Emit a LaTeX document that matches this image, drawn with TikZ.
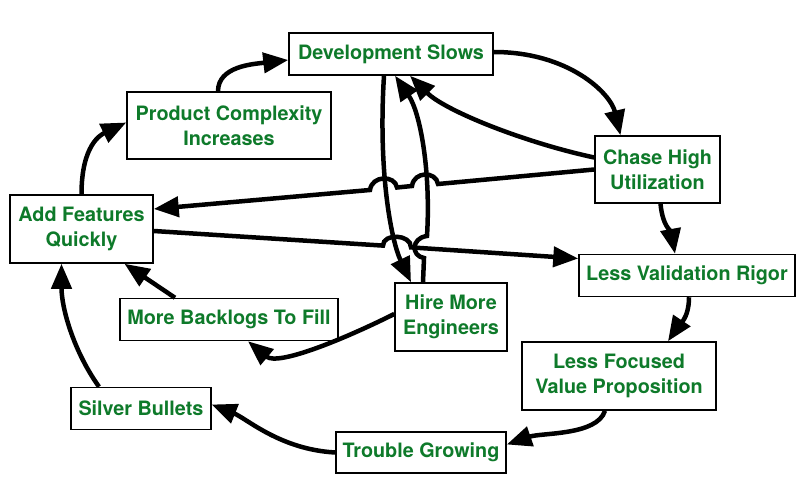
\documentclass[tikz,border=0pt]{standalone}
\usepackage{fontspec}
\setmainfont{TeX Gyre Heros}
\usepackage{tikz}
\usetikzlibrary{arrows.meta}
\definecolor{loopgreen}{RGB}{14,122,42}

\begin{document}
\begin{tikzpicture}[x=1pt,y=-1pt,
	box/.style={draw,line width=1.5pt,fill=white,align=center,text=loopgreen,
		font=\fontsize{19.8}{24.5}\selectfont\bfseries,inner sep=0pt,minimum height=42pt},
	link/.style={line width=4.5pt,-{Triangle[length=25pt,width=20pt]}}]
		\useasboundingbox (0,0) rectangle (800,478);
		\node[box,minimum width=204pt] (dev) at (391,54) {Development Slows};
		\node[box,minimum width=204pt,minimum height=67pt] (cmplx) at (229,125.5) {Product Complexity\\Increases};
		\node[box,minimum width=125pt,minimum height=67pt] (chase) at (657.5,169.5) {Chase High\\Utilization};
		\node[box,minimum width=143pt,minimum height=68pt] (feat) at (81.5,229) {Add Features\\Quickly};
		\node[box,minimum width=216pt] (valid) at (687,275.5) {Less Validation Rigor};
		\node[box,minimum width=112pt,minimum height=68pt] (hire) at (451,317) {Hire More\\Engineers};
		\node[box,minimum width=218pt] (backlog) at (229,319.5) {More Backlogs To Fill};
		\node[box,minimum width=194pt,minimum height=68pt] (focus) at (619,376) {Less Focused\\Value Proposition};
		\node[box,minimum width=140pt] (silver) at (141,408.5) {Silver Bullets};
		\node[box,minimum width=170pt,minimum height=41pt] (trouble) at (421,452.5) {Trouble Growing};
		
		\draw[link] (feat.north) .. controls +(0,-50) and +(-25,12) .. ([yshift=3pt]cmplx.west);
		\draw[link] ([xshift=-11pt]cmplx.north) .. controls +(0,-25) and +(-35,4) .. ([yshift=-6pt]dev.west);
		\draw[link] ([yshift=2pt]dev.east) .. controls +(75,0) and +(-10,-42) .. ([xshift=-37pt]chase.north);
		\draw[link] ([yshift=12pt]chase.west) .. controls +(-70,-15) and +(35,35) .. ([xshift=19pt]dev.south);
		% hops over the two vertical curves
		\draw[link] (chase.west) -- (438,184) .. controls (436,171) and (414,171) .. (412,186)
			-- (397,187.5) .. controls (395,175) and (372,175) .. (370,190) -- ([yshift=20pt]feat.east);
		\draw[link] ([xshift=3pt]chase.south) .. controls +(2,22) and +(-4,-22) .. ([xshift=-12pt]valid.north);
		\draw[link] ([yshift=-2pt]feat.east) -- (383,245.6) .. controls (383,233) and (411,234) .. (411,247.4)
			-- ([yshift=17pt]valid.west);
		\draw[link] ([xshift=-7pt]dev.south) .. controls +(-6,95) and +(-20,-42) .. ([xshift=-40pt]hire.north);
		\draw[link] ([xshift=-28pt]hire.north) -- (424,258) .. controls (411,256) and (411,238) .. (427,236)
			.. controls (431,170) and (420,112) .. ([xshift=4pt]dev.south);
		\draw[link] ([yshift=3pt]hire.west) .. controls +(-50,25) and +(30,25) .. ([xshift=19pt]backlog.south);
		\draw[link] ([xshift=-54pt]backlog.north) -- ([xshift=43pt]feat.south);
		\draw[link] ([xshift=-42pt]silver.north) .. controls +(-25,-35) and +(0,45) .. ([xshift=-20pt]feat.south);
		\draw[link] (trouble.west) .. controls +(-55,-3) and +(35,14) .. ([yshift=4pt]silver.east);
		\draw[link] ([xshift=-14pt]focus.south) .. controls +(-8,25) and +(35,-12) .. ([yshift=8pt]trouble.east);
		\draw[link] ([xshift=2pt]valid.south) .. controls +(0,22) and +(10,-15) .. ([xshift=49pt]focus.north);
\end{tikzpicture}
\end{document}
